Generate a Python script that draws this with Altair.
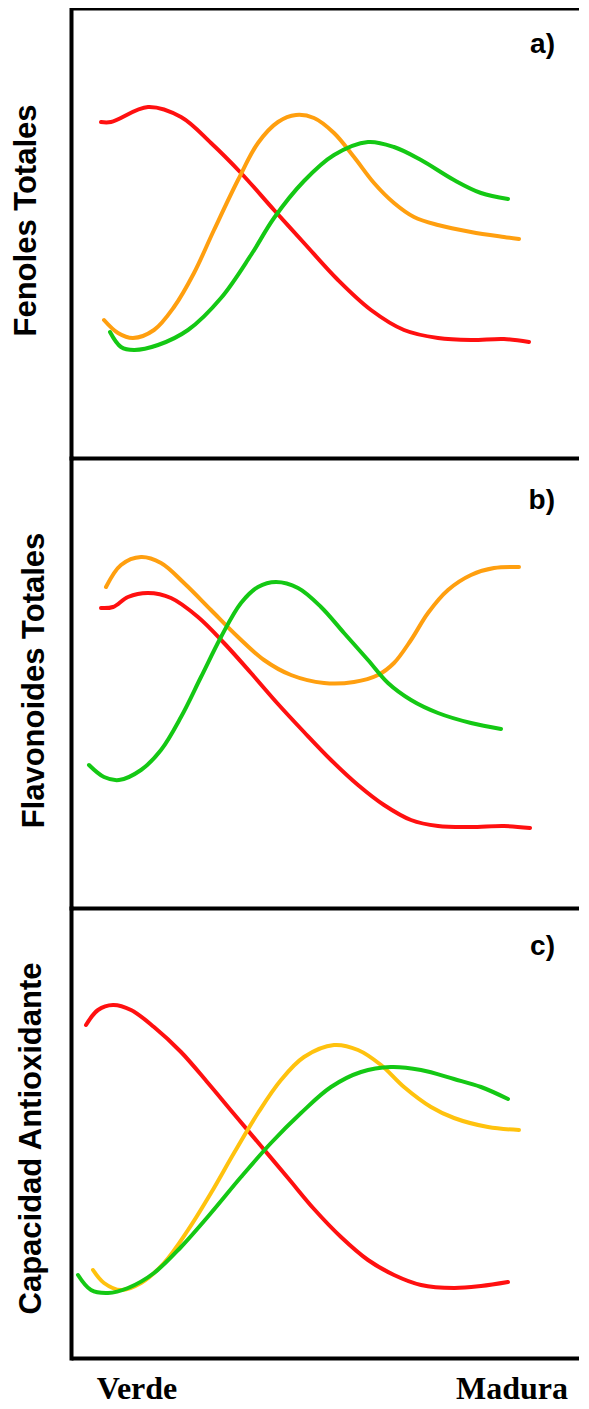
import altair as alt
import pandas as pd

# ---------- data (arbitrary units) ----------
# x: maturity scale (0 = left edge of the panel); y: relative level (0..450)

# a) Fenoles Totales
a_rojo_x = [30, 40, 77, 110, 140, 170, 203, 233, 267, 300, 333, 367, 400, 433, 458]
a_rojo_y = [336, 336, 351, 341, 315, 285, 248, 215, 178, 148, 128, 120, 118, 119, 116]
a_naranja_x = [33, 47, 62, 83, 103, 123, 143, 167, 187, 207, 225, 243, 263, 283, 303, 323, 343, 367, 400, 433, 448]
a_naranja_y = [138, 125, 120, 128, 151, 185, 228, 278, 315, 336, 343, 340, 325, 301, 275, 255, 241, 233, 226, 221, 219]
a_verde_x = [39, 50, 63, 87, 117, 150, 180, 203, 233, 263, 297, 323, 350, 383, 410, 437]
a_verde_y = [126, 111, 108, 113, 128, 160, 203, 240, 277, 303, 316, 311, 298, 278, 265, 259]

# b) Flavonoides Totales
b_rojo_x = [30, 42, 57, 77, 100, 127, 153, 180, 207, 233, 260, 287, 313, 340, 367, 400, 433, 459]
b_rojo_y = [300, 301, 311, 315, 310, 291, 265, 235, 204, 176, 148, 123, 103, 88, 82, 81, 82, 80]
b_naranja_x = [35, 50, 70, 90, 113, 140, 167, 193, 220, 253, 283, 307, 323, 340, 357, 377, 400, 423, 448]
b_naranja_y = [321, 343, 351, 345, 325, 298, 271, 248, 233, 225, 226, 233, 245, 268, 295, 318, 333, 340, 341]
b_verde_x = [18, 33, 48, 70, 90, 110, 130, 150, 170, 187, 205, 227, 250, 273, 297, 317, 340, 367, 400, 430]
b_verde_y = [143, 131, 128, 138, 158, 191, 231, 271, 305, 321, 326, 320, 301, 275, 248, 225, 208, 195, 185, 179]

# c) Capacidad Antioxidante
c_rojo_x = [15, 27, 42, 60, 83, 110, 137, 163, 190, 217, 243, 270, 297, 323, 350, 383, 410, 437]
c_rojo_y = [333, 348, 353, 348, 331, 306, 275, 244, 212, 180, 149, 121, 98, 83, 73, 70, 72, 76]
c_amarillo_x = [22, 33, 50, 70, 93, 117, 140, 163, 187, 210, 233, 263, 287, 310, 333, 360, 383, 417, 448]
c_amarillo_y = [88, 75, 68, 75, 95, 128, 165, 205, 245, 278, 301, 313, 308, 293, 271, 251, 240, 231, 228]
c_verde_x = [7, 20, 37, 57, 83, 110, 140, 170, 200, 230, 260, 290, 320, 350, 383, 410, 437]
c_verde_y = [83, 68, 65, 70, 85, 111, 145, 181, 215, 245, 271, 286, 291, 288, 279, 271, 259]

panel_titles = ["Fenoles Totales", "Flavonoides Totales", "Capacidad Antioxidante"]
panel_tags = ["a)", "b)", "c)"]

x_tick_values = [66, 441]
x_tick_labels = ["Verde", "Madura"]

ROJO = "#FF1010"
NARANJA = "#FF9F0F"
AMARILLO = "#FFC20E"
VERDE = "#14C814"

X_MAX = 508
Y_MAX = 450


def series(x, y, name, color):
    return pd.DataFrame({"x": x, "y": y, "serie": name, "color": color})


panel_data = [
    pd.concat([series(a_rojo_x, a_rojo_y, "rojo", ROJO),
               series(a_naranja_x, a_naranja_y, "naranja", NARANJA),
               series(a_verde_x, a_verde_y, "verde", VERDE)]),
    pd.concat([series(b_rojo_x, b_rojo_y, "rojo", ROJO),
               series(b_naranja_x, b_naranja_y, "naranja", NARANJA),
               series(b_verde_x, b_verde_y, "verde", VERDE)]),
    pd.concat([series(c_rojo_x, c_rojo_y, "rojo", ROJO),
               series(c_amarillo_x, c_amarillo_y, "amarillo", AMARILLO),
               series(c_verde_x, c_verde_y, "verde", VERDE)]),
]

# layout offsets (pixels) for the axis titles and the panel tags
title_x = [-45, -37, -40]
title_y = [212, 222, 230]
tag_offset = [-65, -71, -67]
tag_dx = -24

xscale = alt.Scale(domain=[0, X_MAX], nice=False, zero=False)
yscale = alt.Scale(domain=[0, Y_MAX], nice=False, zero=False)

top_axis = alt.Axis(orient="top", title=None, labels=False, ticks=False, grid=False,
                    domain=True, domainColor="black", domainWidth=4, domainCap="butt")


def make_panel(i):
    df = panel_data[i]
    y_axis = alt.Axis(title=panel_titles[i], labels=False, ticks=False, grid=False,
                      domain=True, domainColor="black", domainWidth=4, domainCap="square",
                      titleFont="Liberation Sans", titleFontWeight="bold", titleFontSize=31,
                      titleColor="black", titleX=title_x[i], titleY=title_y[i],
                      titleAngle=270, titleAlign="center", titleBaseline="middle")
    tag = alt.TitleParams(text=panel_tags[i], orient="top", anchor="end", frame="group",
                          offset=tag_offset[i], dx=tag_dx, baseline="middle",
                          font="Liberation Sans", fontWeight="bold", fontSize=28,
                          color="black")
    return alt.Chart(df).mark_line(strokeWidth=4, interpolate="catmull-rom",
                                   strokeCap="round", strokeJoin="round").encode(
        x=alt.X("x:Q", scale=xscale, axis=top_axis),
        y=alt.Y("y:Q", scale=yscale, axis=y_axis),
        color=alt.Color("color:N", scale=None),
        detail="serie:N",
    ).properties(width=X_MAX, height=Y_MAX, title=tag)


# bottom border of panel c with the ripening-stage labels under it
stage_df = pd.DataFrame({"x": x_tick_values, "t": x_tick_labels})
stages = alt.Chart(stage_df).mark_text(font="Liberation Serif", fontWeight="bold",
                                       fontSize=32, color="black", align="center",
                                       baseline="alphabetic").encode(
    x=alt.X("x:Q", scale=xscale, axis=top_axis),
    y=alt.value(41),
    text="t:N",
).properties(width=X_MAX, height=44)

chart = alt.vconcat(make_panel(0), make_panel(1), make_panel(2), stages, spacing=0).properties(
    padding={"left": 2, "top": 0, "right": 0, "bottom": 0},
    background="white",
).configure_view(stroke=None)

chart.save("out.html", embed_options={"renderer": "svg", "actions": False})
